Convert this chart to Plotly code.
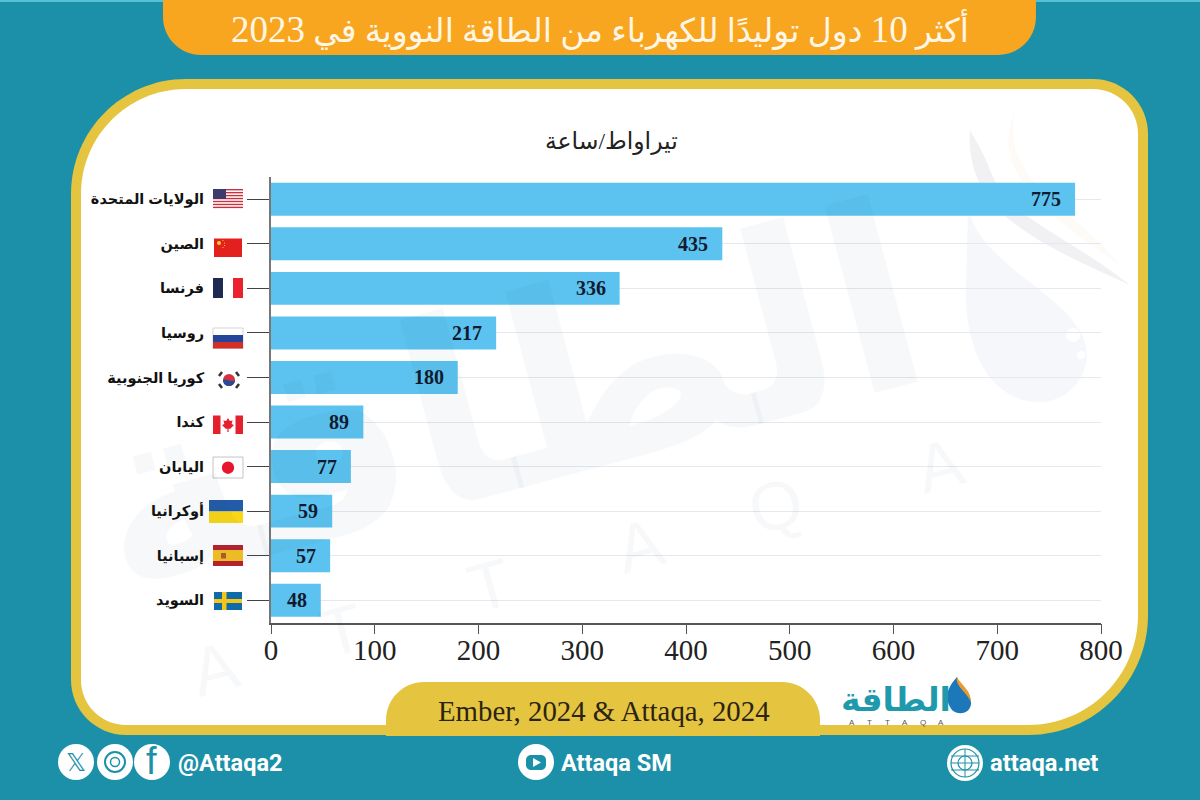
"""Top 10 nuclear electricity generators in 2023 - Attaqa style bar chart."""

import plotly.graph_objects as go

countries = [
    "الولايات المتحدة", "الصين", "فرنسا", "روسيا", "كوريا الجنوبية",
    "كندا", "اليابان", "أوكرانيا", "إسبانيا", "السويد",
]
generation_twh = [775, 435, 336, 217, 180, 89, 77, 59, 57, 48]
x_ticks = [0, 100, 200, 300, 400, 500, 600, 700, 800]

title_text = (
    'أكثر <span style="font-size:37px">10</span> دول توليدًا للكهرباء '
    'من الطاقة النووية في <span style="font-size:37px">2023</span>'
)
unit_text = "تيراواط/ساعة"
source_text = "Ember, 2024 & Attaqa, 2024"

TEAL = "#1c90a8"
ORANGE = "#f8a51f"
YELLOW = "#e5c440"
BAR = "#5cc3f0"
SERIF = "Liberation Serif, DejaVu Serif, serif"
SANS = "Roboto, Liberation Sans, sans-serif"
ARABIC_BOLD = "Liberation Sans, DejaVu Sans, sans-serif"
K = 0.5523


def px(x):
    return x / 1200


def py(y):
    return 1 - y / 800


shapes = []
annotations = []


def add_path(points, fill, line=None, width=0, layer="below"):
    # points is an svg-like list: ("M", x, y), ("L", x, y), ("C", x1, y1, x2, y2, x, y)
    parts = []
    for p in points:
        coords = p[1:]
        vals = []
        for i, v in enumerate(coords):
            vals.append(f"{px(v) if i % 2 == 0 else py(v):.5f}")
        if p[0] == "Z":
            parts.append("Z")
        elif len(vals) == 2:
            parts.append(f"{p[0]} {vals[0]},{vals[1]}")
        else:
            parts.append(f"{p[0]} {vals[0]},{vals[1]} {vals[2]},{vals[3]} {vals[4]},{vals[5]}")
    shapes.append(dict(
        type="path", xref="paper", yref="paper", path=" ".join(parts),
        fillcolor=fill, line=dict(color=line or "rgba(0,0,0,0)", width=width), layer=layer,
    ))


def round_rect(x0, y0, x1, y1, tl, tr, br, bl, fill, layer="below"):
    add_path([
        ("M", x0 + tl, y0),
        ("L", x1 - tr, y0),
        ("C", x1 - tr + tr * K, y0, x1, y0 + tr - tr * K, x1, y0 + tr),
        ("L", x1, y1 - br),
        ("C", x1, y1 - br + br * K, x1 - br + br * K, y1, x1 - br, y1),
        ("L", x0 + bl, y1),
        ("C", x0 + bl - bl * K, y1, x0, y1 - bl + bl * K, x0, y1 - bl),
        ("L", x0, y0 + tl),
        ("C", x0, y0 + tl - tl * K, x0 + tl - tl * K, y0, x0 + tl, y0),
        ("Z",),
    ], fill, layer=layer)


def rect(x0, y0, x1, y1, fill, line=None, width=0, layer="above"):
    shapes.append(dict(
        type="rect", xref="paper", yref="paper",
        x0=px(x0), x1=px(x1), y0=py(y1), y1=py(y0), fillcolor=fill,
        line=dict(color=line or "rgba(0,0,0,0)", width=width), layer=layer,
    ))


def circle(cx, cy, r, fill, line=None, width=0, layer="above"):
    shapes.append(dict(
        type="circle", xref="paper", yref="paper",
        x0=px(cx - r), x1=px(cx + r), y0=py(cy + r), y1=py(cy - r), fillcolor=fill,
        line=dict(color=line or "rgba(0,0,0,0)", width=width), layer=layer,
    ))


def label(x, y, text, size, color, family=SERIF, anchor="center", bold=False, angle=0):
    annotations.append(dict(
        xref="paper", yref="paper", x=px(x), y=py(y), text=text, showarrow=False,
        xanchor=anchor, yanchor="middle", textangle=angle,
        font=dict(size=size, color=color, family=family, weight="bold" if bold else "normal"),
    ))


# frame
rect(0, 0, 1200, 2, "#56c0d6", layer="below")
round_rect(163, -40, 1036, 55, 0, 0, 38, 38, ORANGE)
round_rect(71, 79, 1148, 735, 115, 55, 120, 55, YELLOW)
round_rect(81, 89, 1138, 725, 105, 45, 110, 45, "#ffffff")
round_rect(386, 682, 820, 760, 38, 38, 0, 0, YELLOW)
rect(0, 736, 1200, 800, TEAL, layer="below")

# watermark
WM = "rgba(40,70,140,0.04)"
label(505, 400, "الطاقة", 255, WM, family="DejaVu Sans", bold=True, angle=-15)
for x, y, ch in [(215, 668, "A"), (342, 630, "T"), (490, 585, "T"), (640, 545, "A"),
                 (776, 505, "Q"), (940, 465, "A")]:
    label(x, y, ch, 68, WM, family="Liberation Sans", angle=-15)
add_path([
    ("M", 968, 205), ("C", 975, 260, 1060, 290, 1082, 335),
    ("C", 1098, 370, 1070, 402, 1040, 402),
    ("C", 990, 402, 965, 350, 966, 290), ("Z",),
], "rgba(60,90,170,0.05)", layer="below")
circle(1073, 335, 7, "#ffffff", layer="below")
circle(1081, 355, 4, "#ffffff", layer="below")
add_path([
    ("M", 970, 130), ("C", 965, 210, 1030, 240, 1130, 285),
    ("C", 1060, 230, 1010, 220, 990, 170), ("C", 985, 155, 975, 140, 970, 130), ("Z",),
], "rgba(60,60,90,0.07)", layer="below")
add_path([
    ("M", 1015, 112), ("C", 990, 170, 1040, 210, 1120, 265),
    ("C", 1070, 205, 1000, 180, 1015, 112), ("Z",),
], "rgba(240,170,90,0.06)", layer="below")

# flags, drawn next to each country label
# usa
rect(213, 189, 243, 208, "#ffffff")
for i in range(7):
    rect(213, 189 + i * 2.95, 243, 190.4 + i * 2.95, "#c8313e")
rect(213, 189, 226, 199, "#3c3b6e")
# china
rect(214, 238.5, 242, 257, "#e4201f")
circle(219, 243, 2, "#f8d820")
for x, y in [(223, 240.5), (224.5, 243), (224.5, 245.5), (223, 247.5)]:
    circle(x, y, 0.6, "#f8d820")
# france
rect(213, 278, 223, 298, "#1f2a52")
rect(233, 278, 243, 298, "#e8222e")
# russia
rect(213, 328, 243, 348.5, "#ffffff", line="#bbbbbb", width=0.6)
rect(213, 335, 243, 342, "#24459b")
rect(213, 342, 243, 348.5, "#d22f27")
# south korea
rect(217, 370, 242, 390, "#ffffff")
circle(229, 380, 6, "#d9303e")
add_path([("M", 223, 380), ("C", 226, 378, 232, 383, 235, 380),
          ("C", 235, 388, 223, 388, 223, 380), ("Z",)], "#2b4a94", layer="above")
for x0, y0, x1, y1 in [(219, 376, 222, 372), (236, 372, 239, 376),
                       (219, 384, 222, 388), (236, 388, 239, 384)]:
    add_path([("M", x0, y0), ("L", x1, y1)], "rgba(0,0,0,0)", line="#333333", width=2.5,
             layer="above")
# canada
rect(213, 415.5, 220.5, 434, "#e5202d")
rect(235.5, 415.5, 243, 434, "#e5202d")
add_path([("M", 228, 418), ("L", 229.8, 421), ("L", 232.6, 420.4), ("L", 231.6, 424),
          ("L", 234, 425), ("L", 230, 429), ("L", 228.6, 428.4), ("L", 228.6, 432),
          ("L", 227.4, 432), ("L", 227.4, 428.4), ("L", 226, 429), ("L", 222, 425),
          ("L", 224.4, 424), ("L", 223.4, 420.4), ("L", 226.2, 421), ("Z",)], "#e5202d",
         layer="above")
# japan
rect(213, 457, 243, 478, "#ffffff", line="#b5b5b5", width=0.8)
circle(228, 467.7, 6.2, "#e8162c")
# ukraine
rect(209, 500, 243, 511.5, "#225ba8")
rect(209, 511.5, 243, 523, "#f9d616")
# spain
rect(213, 545, 243, 566, "#b5232c")
rect(213, 550, 243, 561, "#f4c022")
rect(221, 553, 226, 558.5, "#b05a2a")
# sweden
rect(214, 592, 242, 610, "#0f6ca8")
rect(214, 599, 242, 603, "#f5c518")
rect(222, 592, 226.5, 610, "#f5c518")

# headings
label(600, 30, title_text, 33, "#fff6e6", family="Liberation Serif, DejaVu Sans, serif")
label(611, 141, unit_text, 23.5, "#222222", family="Liberation Serif, DejaVu Sans, serif")
label(604, 711, source_text, 28.8, "#2b2414")

# logo in the panel corner
label(896, 699, "الطاقة", 33, "#1f9aac", family="DejaVu Sans", bold=True)
for i, ch in enumerate("ATTAQA"):
    label(852 + i * 17.8, 722, ch, 8, "#555555", family="Liberation Sans")
add_path([("M", 957, 677), ("C", 945, 690, 945, 700, 952, 710),
          ("C", 960, 717, 972, 712, 971, 702), ("C", 970, 692, 960, 690, 957, 677), ("Z",)],
         "#1c78b8", layer="above")
add_path([("M", 957, 677), ("C", 955, 686, 965, 690, 971, 702),
          ("C", 971, 690, 962, 686, 957, 677), ("Z",)], "#e89b2c", layer="above")

# footer: social icons
for cx in [76, 115, 152]:
    circle(cx, 762, 18, "#ffffff", layer="below")
label(76, 762, "𝕏", 25, TEAL, family="DejaVu Sans")
circle(115, 762, 10, "rgba(0,0,0,0)", line=TEAL, width=2)
circle(115, 762, 4.5, "rgba(0,0,0,0)", line=TEAL, width=1.5)
label(151, 761, "f", 38, TEAL, family="Liberation Sans")
label(176, 763, "@Attaqa2", 23.5, "#ffffff", family=SANS, anchor="left", bold=True)

circle(536, 762, 18, "#ffffff", layer="below")
round_rect(526, 755, 546, 770, 5, 5, 5, 5, TEAL, layer="above")
add_path([("M", 533, 758), ("L", 541, 762.5), ("L", 533, 767), ("Z",)], "#ffffff", layer="above")
label(559, 763, "Attaqa SM", 23.5, "#ffffff", family=SANS, anchor="left", bold=True)

circle(965, 763, 18, "#ffffff", layer="below")
circle(965, 763, 14, "rgba(0,0,0,0)", line=TEAL, width=1.2)
circle(965, 763, 7, "rgba(0,0,0,0)", line=TEAL, width=1.2)
for y in [756, 763, 770]:
    rect(951, y - 0.5, 979, y + 0.5, TEAL)
rect(964.5, 749, 965.5, 777, TEAL)
label(988, 763, "attaqa.net", 23.7, "#ffffff", family=SANS, anchor="left", bold=True)

# value labels, sit just inside the end of each bar
for country, value in zip(countries, generation_twh):
    annotations.append(dict(
        xref="x", yref="y", x=value, y=country, text=str(value), showarrow=False,
        xanchor="right", xshift=-12, yanchor="middle",
        font=dict(size=20, color="#111a2e", family=SERIF, weight="bold"),
    ))

fig = go.Figure(
    go.Bar(
        x=generation_twh,
        y=countries,
        orientation="h",
        marker=dict(color=BAR, line=dict(width=0)),
        width=0.74,
        hoverinfo="skip",
    )
)

fig.update_layout(
    width=1200,
    height=800,
    margin=dict(l=0, r=0, t=0, b=0, autoexpand=False),
    paper_bgcolor=TEAL,
    plot_bgcolor="rgba(0,0,0,0)",
    showlegend=False,
    shapes=shapes,
    annotations=annotations,
    xaxis=dict(
        domain=[px(271), px(1101)],
        range=[0, 800],
        tickvals=x_ticks,
        ticks="outside",
        ticklen=10,
        tickwidth=1,
        tickcolor="#555555",
        showgrid=False,
        zeroline=False,
        showline=True,
        linecolor="#555555",
        linewidth=1.5,
        ticklabelstandoff=-9,
        tickfont=dict(size=29, color="#222222", family=SERIF),
        anchor="y",
    ),
    yaxis=dict(
        domain=[py(622.5), py(177)],
        autorange="reversed",
        ticks="outside",
        ticklen=22,
        tickwidth=1.4,
        tickcolor="#444444",
        showgrid=True,
        gridcolor="#e6e8ee",
        gridwidth=1,
        zeroline=False,
        showline=True,
        linecolor="#777777",
        linewidth=2,
        ticklabelstandoff=40,
        tickfont=dict(size=14.5, color="#111111", family=ARABIC_BOLD, weight="bold"),
        anchor="x",
    ),
)

fig.write_html(
    "out.html",
    config=dict(displayModeBar=False),
    post_script="document.body.style.margin='0';",
)
